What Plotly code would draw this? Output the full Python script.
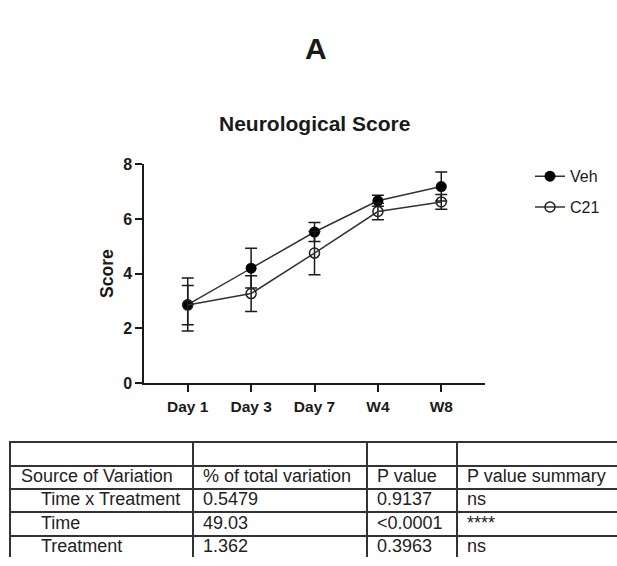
import plotly.graph_objects as go

# ---- data ----
timepoints = ["Day 1", "Day 3", "Day 7", "W4", "W8"]
veh_mean = [2.87, 4.20, 5.52, 6.66, 7.18]
veh_sem = [0.97, 0.73, 0.35, 0.20, 0.53]
c21_mean = [2.85, 3.27, 4.75, 6.27, 6.62]
c21_sem = [0.72, 0.65, 0.79, 0.30, 0.27]
y_ticks = [0, 2, 4, 6, 8]

table_header = ["", "", "", ""]
table_source = ["Source of Variation", "Time x Treatment", "Time", "Treatment"]
table_pct = ["% of total variation", "0.5479", "49.03", "1.362"]
table_p = ["P value", "0.9137", "<0.0001", "0.3963"]
table_summary = ["P value summary", "ns", "****", "ns"]

# ---- layout constants (pixels) ----
W, H = 617, 566
ink = "#1a1a1a"
FONT = "Liberation Sans, Arial, sans-serif"
col_widths = [182, 174, 90, 160]
row_h = 24
tbl_left, tbl_top = 11, 448
text_pad = 10
indent = "\u00a0" * 4

fig = go.Figure()

fig.add_trace(go.Scatter(
    x=timepoints, y=veh_mean, name="Veh", mode="lines+markers",
    line=dict(color="#333333", width=1.5),
    marker=dict(symbol="circle", size=11, color="black"),
    error_y=dict(type="data", array=veh_sem, color=ink, thickness=1.5, width=6),
    legendgroup="veh",
))
fig.add_trace(go.Scatter(
    x=timepoints, y=c21_mean, name="C21", mode="lines+markers",
    line=dict(color="#333333", width=1.5),
    marker=dict(symbol="circle-open", size=10, color="#222222", line=dict(width=1.5)),
    error_y=dict(type="data", array=c21_sem, color=ink, thickness=1.5, width=6),
    legendgroup="c21",
))

# ---- table drawn on its own axes (x2/y2): x in pixels of column width, y in rows ----
col_edges = [0]
for w in col_widths:
    col_edges.append(col_edges[-1] + w)

columns = [table_source, table_pct, table_p, table_summary]
tx, ty, tt = [], [], []
for ci, col in enumerate(columns):
    head = table_header[ci]
    cells = [head] + list(col)
    for ri, val in enumerate(cells):
        if val == "":
            continue
        label = val
        if ci == 0 and ri >= 2:
            label = indent + val
        tx.append(col_edges[ci] + text_pad)
        ty.append(ri + 0.5)
        tt.append(label)

fig.add_trace(go.Scatter(
    x=tx, y=ty, text=tt, mode="text", textposition="middle right",
    textfont=dict(family=FONT, size=18, color="#222222"),
    xaxis="x2", yaxis="y2", showlegend=False, hoverinfo="skip",
    cliponaxis=False,
))

tbl_w = W - tbl_left
tbl_h = H - tbl_top
n_rows_visible = tbl_h / row_h

fig.update_layout(
    width=W, height=H,
    margin=dict(l=0, r=0, t=0, b=0),
    paper_bgcolor="white", plot_bgcolor="white",
    font=dict(family=FONT, color=ink),
    showlegend=True,
    legend=dict(x=530 / W, xanchor="left", y=1 - 156 / H, yanchor="top",
                font=dict(size=16, color=ink), traceorder="grouped",
                tracegroupgap=7, itemwidth=30, bgcolor="rgba(0,0,0,0)"),
    xaxis=dict(domain=[144 / W, 485 / W], type="category",
               range=[-0.69, 4.69], showline=True, linecolor=ink, linewidth=1.5,
               ticks="outside", ticklen=7, tickwidth=1.5, tickcolor=ink,
               ticklabelstandoff=2,
               showgrid=False, zeroline=False,
               tickfont=dict(size=15.5, weight="bold", color=ink)),
    yaxis=dict(domain=[1 - 386.7 / H, 1 - 161 / H], range=[0, 8],
               tickvals=y_ticks, showline=True, linecolor=ink, linewidth=1.5,
               ticks="outside", ticklen=7, tickwidth=1.5, tickcolor=ink,
               showgrid=False, zeroline=False,
               tickfont=dict(size=16, weight="bold", color=ink),
               title=dict(text="Score", font=dict(size=17.5, weight="bold", color=ink), standoff=5)),
    xaxis2=dict(domain=[tbl_left / W, 1], range=[0, tbl_w], anchor="y2", side="top",
                showline=True, linecolor="#333333", linewidth=1.5,
                tickvals=col_edges[1:-1], showticklabels=False, ticks="",
                showgrid=True, gridcolor="#333333", gridwidth=1.5, zeroline=False,
                fixedrange=True),
    yaxis2=dict(domain=[0, 1 - tbl_top / H], range=[n_rows_visible, 0], anchor="x2",
                showline=True, linecolor="#333333", linewidth=1.5,
                tickvals=[1, 2, 3, 4], showticklabels=False, ticks="",
                showgrid=True, gridcolor="#333333", gridwidth=1.5, zeroline=False,
                fixedrange=True),
    annotations=[
        dict(text="<b>A</b>", x=316 / W, y=1 - 42 / H, xref="paper", yref="paper",
             showarrow=False, font=dict(size=30, color=ink), xanchor="center", yanchor="middle"),
        dict(text="<b>Neurological Score</b>", x=314 / W, y=1 - 119 / H, xref="paper", yref="paper",
             showarrow=False, font=dict(size=21, color=ink), xanchor="center", yanchor="middle"),
    ],
)

fig.write_html("out.html")
